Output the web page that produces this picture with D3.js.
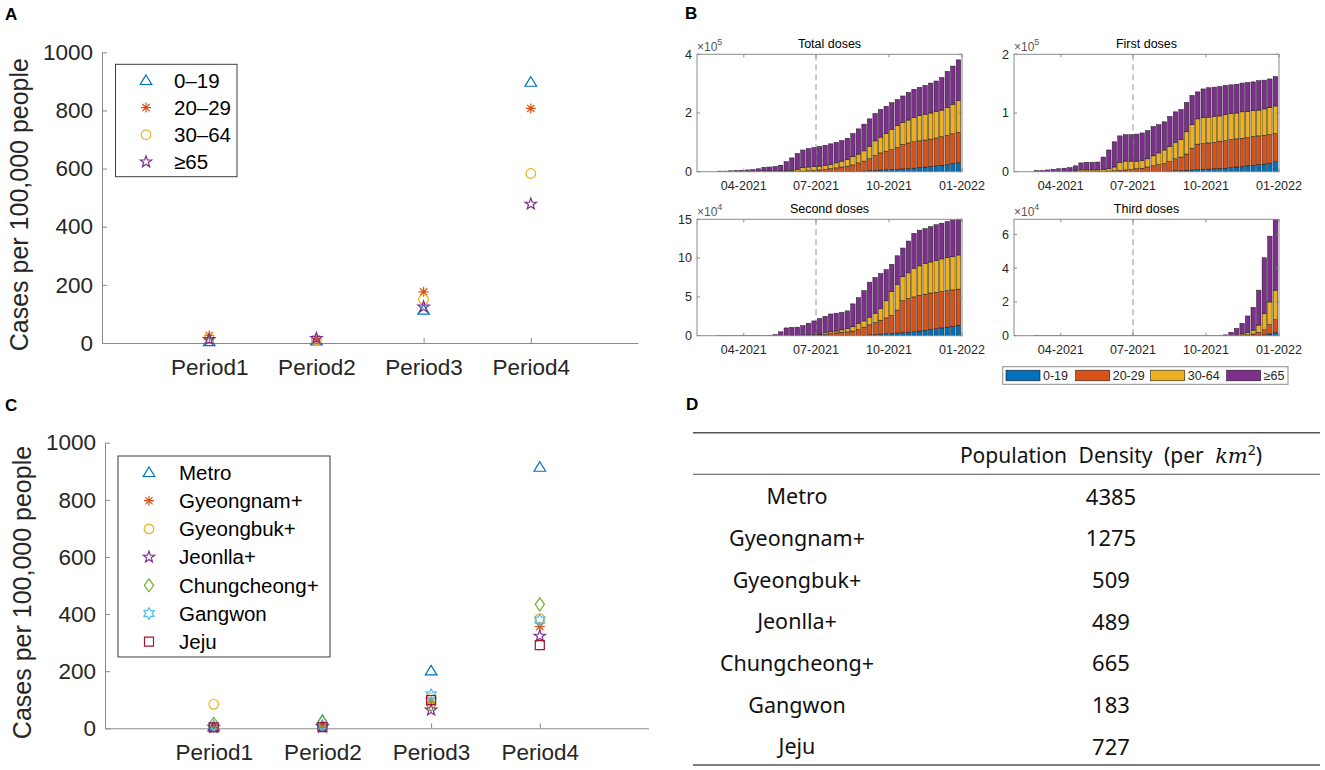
<!DOCTYPE html>
<html>
<head>
<meta charset="utf-8">
<script src="https://cdn.jsdelivr.net/npm/d3@7"></script>
<style>
  body { margin: 0; background: #fff; }
  svg text { font-family: "Liberation Sans", Arial, sans-serif; }
</style>
</head>
<body>
<svg id="fig" width="1325" height="770"></svg>
<script>
// ---- Panel A / C: cases per 100,000 people by period ----
const periods = ['Period1', 'Period2', 'Period3', 'Period4'];

const ageGroups = ['0–19', '20–29', '30–64', '≥65'];
const ageCases0to19  = [5, 7, 113, 897];
const ageCases20to29 = [26, 14, 176, 807];
const ageCases30to64 = [16, 10, 150, 583];
const ageCases65plus = [12, 16, 124, 478];

const regions = ['Metro', 'Gyeongnam+', 'Gyeongbuk+', 'Jeonlla+', 'Chungcheong+', 'Gangwon', 'Jeju'];
const metroCases       = [5, 28, 201, 914];
const gyeongnamCases   = [6, 8, 93, 356];
const gyeongbukCases   = [84, 6, 105, 384];
const jeonllaCases     = [4, 5, 64, 323];
const chungcheongCases = [16, 22, 82, 434];
const gangwonCases     = [8, 10, 117, 379];
const jejuCases        = [3, 4, 99, 291];

// ---- Panel D: population density (per km^2) ----
const densities = [4385, 1275, 509, 489, 665, 183, 727];

// ---- Panel B: weekly vaccine doses (thousands), stacked by age ----
const weekStarts = ['2021-02-26','2021-03-05','2021-03-12','2021-03-19','2021-03-26','2021-04-02','2021-04-09','2021-04-16','2021-04-23','2021-04-30',
  '2021-05-07','2021-05-14','2021-05-21','2021-05-28','2021-06-04','2021-06-11','2021-06-18','2021-06-25',
  '2021-07-02','2021-07-09','2021-07-16','2021-07-23','2021-07-30','2021-08-06','2021-08-13','2021-08-20','2021-08-27',
  '2021-09-03','2021-09-10','2021-09-17','2021-09-24','2021-10-01','2021-10-08','2021-10-15','2021-10-22','2021-10-29',
  '2021-11-05','2021-11-12','2021-11-19','2021-11-26','2021-12-03','2021-12-10','2021-12-17','2021-12-24'];

const total0to19  = [0,0,0,0,0,0,0,0,0,0, 0,0,0,0,0,0,0,0,0,0, 0,0,0,0,
  1,1.5,2.5,3.5,4.5,5.5,6.5,7.5,8.5,9.5,10.5,12,14,16,18,20,22,24.5,27,31];
const total20to29 = [0,0,0,0,0,0,0,0,0,0, 0,0,
  0.5,1,1.5,2,3,4,6,8,10,13,16,19,22,28.5,33.5,40.5,50.5,58.5,63.5,67.5,74.5,83.5,87.5,90,91,92,93,95,97,99.5,102,103];
const total30to64 = [0,0,0,0,0,
  0.5,1,2,3,3,3,3,3.5,4,6.5,12,13,13,13,13,15,17,20,23,28,30,35,43,50,54,61,69,74,75,78,83,86,88,89,90,91,95,101,108];
const total65plus = [2,2,3,4,5,5.5,6,8,12,13,15,19,30,42,54,60,63,65,67,69,70,70,70,72,79,86,91,93,93,94,92,91,89,90,94,96,96,98,102,104,111,123,130,139];

const first0to19  = [0,0,0,0,0,0,0,0,0,0, 0,0,0,0,0,0,0,0,0,0, 0,0,0,0,
  1,1.5,2,2.5,3,3.5,4,4.5,5,5.5,6,7,8,9,10,11,12,13,14,17];
const first20to29 = [0,0,0,0,0,0,0,0,0,0, 0,0,
  0.5,1,1.5,2,3,4,5,6,8,10,12,14,16,20.5,23,27.5,37,43.5,44,44.5,45,46.5,47,48,48,48,48,49,49,49,49,48];
const first30to64 = [0,0,0,0,0,
  0.5,1,2,3,3,3,3,3,4,6.5,14,15,14,13,13,14,17,20,23,26,28,30,38,40,43,44,44,44,43,44,44,44,45,45,44,44,45,46,47];
const first65plus = [2,2,3,4,5,5.5,6,8,12,13,13,13.5,21.5,32,43,45,45,45,46,47,48,50,48,48,51,52,51,50,50,46,49,50,50,50,50,49,49,49,49,49,50,49,49,50];

const second0to19  = [0,0,0,0,0,0,0,0,0,0, 0,0,0,0,0,0,0,0,0,0, 0,0,0,0,0,0,
  0.5,1,1.5,2,2.5,3,3.5,4,4.5,5,6,7,8,9,10,11,12,13.5];
const second20to29 = [0,0,0,0,0,0,0,0,0,0, 0,0,0,0,0,0,0,
  0.5,1,2,2.5,3.5,4.5,5,6,8,10.5,13,15.5,18,20.5,23,29.5,41,43.5,45,46,46.5,47,47,47,47,47,46.5];
const second30to64 = [0,0,0,0,0,0,0,0,0,0, 0,
  0.3,0.5,0.5,0.6,0.8,1,1,1,2,2.5,2.5,3,4,5.5,8,8,10,12,15,22,31,33,31,33,37,38,39.5,40,41,42,43,43,44];
const second65plus = [0.05,0.05,0.05,0.1,0.2,0.2,0.3,0.3,0.4,0.5,1.5,4.7,9.5,10.2,10.4,12.2,15,17.5,20,21,23,23,22.5,23,29.5,33,39,45,46,45,40,35,37,37,41,45,46,45,45.5,46,46,46,47,46];

const third0to19  = [0,0,0,0,0,0,0,0,0,0, 0,0,0,0,0,0,0,0,0,0, 0,0,0,0,0,0,0,0,0,0, 0,0,0,0,0,0,0,0,0,0,
  0.2,0.5,1,2];
const third20to29 = [0,0,0,0,0,0,0,0,0,0, 0,0,0,0,0,0,0,0,0,0, 0,0,0,0,0,0,0,0,0,0, 0,0,0,0,0,0,0,0,
  0.5,1,1.8,3,5.5,7.5];
const third30to64 = [0,0,0,0,0,0,0,0,0,0, 0,0,0,0,0,0,0,0,0,0, 0,0,0,0,0,0,0,0,0,0, 0,0,0,0,0,0,
  0.1,1,1.5,2.3,4.3,9.5,13.5,17.5];
const third65plus = [0.03,0.03,0.03,0.03,0.03,0.03,0.03,0.03,0.03,0.03, 0.03,0.03,0.03,0.03,0.03,0.03,0.03,0.03,0.03,0.03,
  0.03,0.03,0.03,0.03,0.03,0.03,0.03,0.03,0.03,0.03, 0.03,0.03,0.03,0.03,
  0.5,2,4.2,6.3,9.7,13.5,20.7,33.2,39,42];

const doseAgeLabels = ['0-19', '20-29', '30-64', '≥65'];
const AGE_COLORS = ['#0072BD', '#D95319', '#EDB120', '#7E2F8E'];
const MARK_COLORS = ['#0072BD', '#D95319', '#EDB120', '#7E2F8E', '#77AC30', '#4DBEEE', '#A2142F'];
const MARKS = ['triangle', 'asterisk', 'circle', 'pentagram', 'diamond', 'hexagram', 'square'];

const svg = d3.select('#fig');
const parseDay = d3.timeParse('%Y-%m-%d');
const AXIS_GREY = '#8a8a8a';
const TEXT = '#262626';

function starPath(n, ro, ri) {
    const pts = d3.range(n * 2).map(i => {
        const a = -Math.PI / 2 + i * Math.PI / n;
        const r = i % 2 ? ri : ro;
        return [(r * Math.cos(a)).toFixed(2), (r * Math.sin(a)).toFixed(2)];
    });
    return 'M' + pts.join('L') + 'Z';
}

function markerPath(kind) {
    switch (kind) {
        case 'triangle':  return 'M0,-5.5L5.8,4L-5.8,4Z';
        case 'asterisk':  return 'M0,-5V5M-5,0H5M-3.6,-3.6L3.6,3.6M-3.6,3.6L3.6,-3.6';
        case 'circle':    return 'M4.8,0A4.8,4.8 0 1,1 -4.8,0A4.8,4.8 0 1,1 4.8,0Z';
        case 'pentagram': return starPath(5, 6, 2.4);
        case 'diamond':   return 'M0,-6.5L4.6,0L0,6.5L-4.6,0Z';
        case 'hexagram':  return starPath(6, 5.8, 3.3);
        case 'square':    return 'M-4.5,-4.5H4.5V4.5H-4.5Z';
    }
}

// Scatter panel (A and C)
function scatterPanel(cfg) {
    const g = svg.append('g');
    const x = d3.scaleLinear().domain([0, 5]).range([cfg.left, cfg.right]);
    const y = d3.scaleLinear().domain([0, 1000]).range([cfg.bottom, cfg.top]);

    const yAxis = g.append('g').attr('transform', `translate(${cfg.left},0)`)
        .call(d3.axisLeft(y).tickValues([0, 200, 400, 600, 800, 1000]).tickFormat(d3.format('d'))
            .tickSize(-5).tickSizeOuter(0).tickPadding(9));
    const xAxis = g.append('g').attr('transform', `translate(0,${cfg.bottom})`)
        .call(d3.axisBottom(x).tickValues([1, 2, 3, 4]).tickFormat(d => periods[d - 1])
            .tickSize(-5).tickSizeOuter(0).tickPadding(16));
    [yAxis, xAxis].forEach(a => {
        a.select('.domain').attr('stroke', AXIS_GREY);
        a.selectAll('.tick line').attr('stroke', AXIS_GREY);
        a.selectAll('text').attr('font-size', 22.5).attr('fill', TEXT)
            .attr('font-family', '"Liberation Sans", Arial, sans-serif');
    });

    g.append('text')
        .attr('transform', `translate(${cfg.labelX},${(cfg.top + cfg.bottom) / 2 + 7}) rotate(-90)`)
        .attr('text-anchor', 'middle').attr('font-size', 25).attr('fill', TEXT)
        .text('Cases per 100,000 people');

    cfg.series.forEach((s, si) => {
        g.append('g').selectAll('path').data(s.values).join('path')
            .attr('transform', (v, i) => `translate(${x(i + 1)},${y(v)})`)
            .attr('d', markerPath(MARKS[si]))
            .attr('fill', 'none').attr('stroke', MARK_COLORS[si]).attr('stroke-width', 1.2);
    });

    // Legend
    const L = cfg.legend;
    const lg = g.append('g');
    lg.append('rect').attr('x', L.x).attr('y', L.y).attr('width', L.w).attr('height', L.h)
        .attr('fill', '#fff').attr('stroke', '#3c3c3c').attr('stroke-width', 1);
    cfg.series.forEach((s, si) => {
        const cy = L.row0 + si * L.step;
        lg.append('path').attr('transform', `translate(${L.markX},${cy})`)
            .attr('d', markerPath(MARKS[si]))
            .attr('fill', 'none').attr('stroke', MARK_COLORS[si]).attr('stroke-width', 1.2);
        lg.append('text').attr('x', L.textX).attr('y', cy).attr('dy', '0.36em')
            .attr('font-size', L.fs).attr('fill', '#000').text(s.name);
    });
}

// Stacked weekly dose panel (B)
function dosePanel(cfg) {
    const { left, top, w, h } = cfg;
    const g = svg.append('g');
    const x = d3.scaleTime().domain([parseDay('2021-02-01'), parseDay('2022-01-01')]).range([left, left + w]);
    const y = d3.scaleLinear().domain([0, cfg.yMax]).range([top + h, top]);
    const barW = (x(parseDay('2021-02-08')) - x(parseDay('2021-02-01'))) * 0.8;

    const rows = weekStarts.map((d, i) => ({
        date: d3.timeHour.offset(parseDay(d), 84),
        a0: cfg.series[0][i], a1: cfg.series[1][i], a2: cfg.series[2][i], a3: cfg.series[3][i]
    }));
    const layers = d3.stack().keys(['a0', 'a1', 'a2', 'a3'])(rows);

    // reference line at 07-2021
    g.append('line')
        .attr('x1', x(parseDay('2021-07-01'))).attr('x2', x(parseDay('2021-07-01')))
        .attr('y1', top).attr('y2', top + h)
        .attr('stroke', '#a6a6a6').attr('stroke-width', 1.2).attr('stroke-dasharray', '6,4');

    g.selectAll('g.layer').data(layers).join('g').attr('class', 'layer')
        .attr('fill', (d, i) => AGE_COLORS[i])
        .selectAll('rect').data(d => d).join('rect')
        .attr('x', d => x(d.data.date) - barW / 2).attr('width', barW)
        .attr('y', d => y(d[1]))
        .attr('height', d => Math.max(0, y(d[0]) - y(d[1])))
        .attr('stroke', '#1a1a1a').attr('stroke-width', 0.5);

    // box + inward ticks
    g.append('rect').attr('x', left).attr('y', top).attr('width', w).attr('height', h)
        .attr('fill', 'none').attr('stroke', AXIS_GREY).attr('stroke-width', 1);

    const xTicks = ['2021-04-01', '2021-07-01', '2021-10-01', '2022-01-01'].map(parseDay);
    const fmt = d3.timeFormat('%m-%Y');
    xTicks.forEach(t => {
        const tx = x(t);
        g.append('path').attr('d', `M${tx},${top + h}v-3M${tx},${top}v3`).attr('stroke', AXIS_GREY);
        g.append('text').attr('x', tx).attr('y', top + h + 18).attr('text-anchor', 'middle')
            .attr('font-size', 12.5).attr('fill', TEXT).text(fmt(t));
    });
    cfg.ticks.forEach(v => {
        const ty = y(v);
        g.append('path').attr('d', `M${left},${ty}h3M${left + w},${ty}h-3`).attr('stroke', AXIS_GREY);
        g.append('text').attr('x', left - 5).attr('y', ty).attr('dy', '0.35em').attr('text-anchor', 'end')
            .attr('font-size', 12.5).attr('fill', TEXT).text(v / cfg.unit);
    });

    g.append('text').attr('x', left + w / 2).attr('y', top - 6).attr('text-anchor', 'middle')
        .attr('font-size', 12.5).attr('fill', '#000').text(cfg.title);

    const ex = g.append('text').attr('x', left).attr('y', top - 3).attr('font-size', 12).attr('fill', '#555');
    ex.append('tspan').text('×10');
    ex.append('tspan').attr('dy', -6).attr('font-size', 9).text(cfg.exp);
}

// ---- A ----
scatterPanel({
    left: 102, right: 638, top: 52.3, bottom: 343, labelX: 28,
    series: [ageCases0to19, ageCases20to29, ageCases30to64, ageCases65plus]
        .map((v, i) => ({ name: ageGroups[i], values: v })),
    legend: { x: 115.5, y: 64.3, w: 121.5, h: 112.4, row0: 80.5, step: 27.1, markX: 146, textX: 174, fs: 20.5 }
});

// ---- C ----
scatterPanel({
    left: 105, right: 648.5, top: 442.7, bottom: 728.3, labelX: 31,
    series: [metroCases, gyeongnamCases, gyeongbukCases, jeonllaCases, chungcheongCases, gangwonCases, jejuCases]
        .map((v, i) => ({ name: regions[i], values: v })),
    legend: { x: 118, y: 456, w: 212, h: 201, row0: 472.5, step: 28.2, markX: 149, textX: 179, fs: 20.5 }
});

// ---- B ----
dosePanel({ left: 697, top: 54.3, w: 265, h: 117.4, yMax: 400, ticks: [0, 200, 400], unit: 100,
    title: 'Total doses', exp: '5', series: [total0to19, total20to29, total30to64, total65plus] });
dosePanel({ left: 1014, top: 54.3, w: 265, h: 117.4, yMax: 200, ticks: [0, 100, 200], unit: 100,
    title: 'First doses', exp: '5', series: [first0to19, first20to29, first30to64, first65plus] });
dosePanel({ left: 697, top: 219.3, w: 265, h: 116.4, yMax: 150, ticks: [0, 50, 100, 150], unit: 10,
    title: 'Second doses', exp: '4', series: [second0to19, second20to29, second30to64, second65plus] });
dosePanel({ left: 1014, top: 219.3, w: 265, h: 116.4, yMax: 69, ticks: [0, 20, 40, 60], unit: 10,
    title: 'Third doses', exp: '4', series: [third0to19, third20to29, third30to64, third65plus] });

// B legend
const bl = svg.append('g');
bl.append('rect').attr('x', 1002.7).attr('y', 366.7).attr('width', 285.3).attr('height', 17.6)
    .attr('fill', '#fff').attr('stroke', '#8a8a8a');
const swatchX = [1006, 1075.7, 1150.7, 1226.7];
doseAgeLabels.forEach((lab, i) => {
    bl.append('rect').attr('x', swatchX[i]).attr('y', 370.2).attr('width', 34).attr('height', 10.6)
        .attr('fill', AGE_COLORS[i]).attr('stroke', '#1a1a1a').attr('stroke-width', 0.6);
    bl.append('text').attr('x', swatchX[i] + 37).attr('y', 375.5).attr('dy', '0.35em')
        .attr('font-size', 12.5).attr('fill', TEXT).text(lab);
});

// ---- D: table ----
const tg = svg.append('g').attr('font-family', '"Noto Sans", sans-serif');
const tl = { x0: 693, x1: 1320, top: 432.7, head: 474.3, bottom: 765, nameX: 797, valX: 1111, row0: 496.7, step: 41.67 };
tg.append('line').attr('x1', tl.x0).attr('x2', tl.x1).attr('y1', tl.top).attr('y2', tl.top)
    .attr('stroke', '#555').attr('stroke-width', 1.6);
tg.append('line').attr('x1', tl.x0).attr('x2', tl.x1).attr('y1', tl.head).attr('y2', tl.head)
    .attr('stroke', '#555').attr('stroke-width', 1.1);
tg.append('line').attr('x1', tl.x0).attr('x2', tl.x1).attr('y1', tl.bottom).attr('y2', tl.bottom)
    .attr('stroke', '#555').attr('stroke-width', 1.6);

const head = tg.append('text').attr('x', tl.valX).attr('y', 462.5).attr('text-anchor', 'middle')
    .attr('font-size', 21).attr('fill', '#111').attr('word-spacing', 6).style('font-family', '"Noto Sans", sans-serif');
head.append('tspan').text('Population Density (per ');
head.append('tspan').style('font-family', '"DejaVu Serif", serif').style('font-style', 'italic').text('km');
head.append('tspan').attr('dy', -8).attr('font-size', 14).text('2');
head.append('tspan').attr('dy', 8).text(')');

regions.forEach((r, i) => {
    const cy = tl.row0 + i * tl.step;
    tg.append('text').attr('x', tl.nameX).attr('y', cy).attr('dy', '0.36em').attr('text-anchor', 'middle')
        .attr('font-size', 21.5).attr('fill', '#111').style('font-family', '"Noto Sans", sans-serif').text(r);
    tg.append('text').attr('x', tl.valX).attr('y', cy).attr('dy', '0.36em').attr('text-anchor', 'middle')
        .attr('font-size', 22).attr('fill', '#111').style('font-family', '"Noto Sans", sans-serif').text(densities[i]);
});

// ---- panel letters ----
[['A', 5, 20], ['B', 685, 18.5], ['C', 5, 411], ['D', 686, 410]].forEach(([t, lx, ly]) => {
    svg.append('text').attr('x', lx).attr('y', ly).attr('font-size', 17).attr('font-weight', 'bold')
        .attr('fill', '#000').text(t);
});
</script>
</body>
</html>
